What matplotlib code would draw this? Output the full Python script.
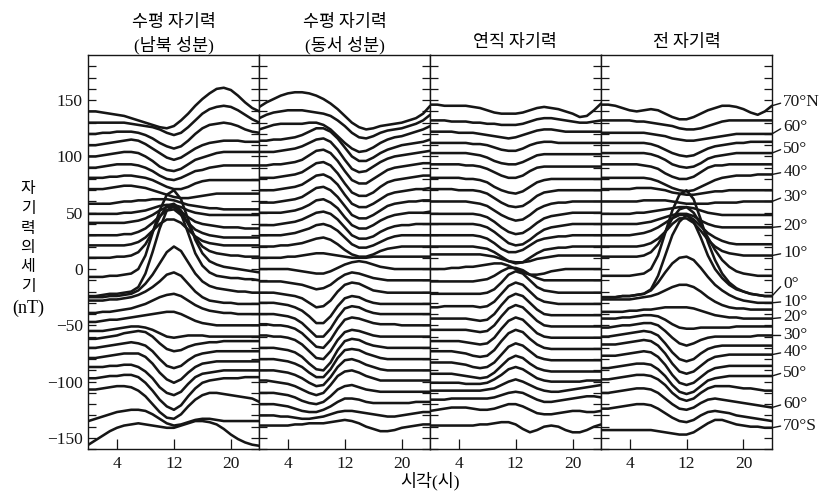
import matplotlib
matplotlib.use("Agg")
import matplotlib.pyplot as plt

# hours of the day (0-24 h), same for every curve
hours = list(range(25))

# latitude labels shown at the right of the last panel (every 10 deg)
lat_labels = ["70°N", "60°", "50°", "40°", "30°", "20°", "10°", "0°",
              "10°", "20°", "30°", "40°", "50°", "60°", "70°S"]
label_y = [148, 126, 107, 86, 64, 38, 14, -13, -29, -43, -59, -74, -92, -120, -139]

# horizontal component, north-south (nT), 70N -> 70S every 5 deg
north_south = [
    [140, 140, 139, 138, 137, 136, 134, 132, 130, 128, 126, 125, 127, 132, 138, 145, 151, 156, 160, 161, 159, 154, 148, 143, 140],
    [130, 130, 130, 130, 130, 130, 129, 128, 127, 126, 124, 121, 119, 121, 126, 132, 138, 142, 144, 145, 144, 141, 137, 133, 130],
    [120, 120, 121, 121, 122, 122, 122, 121, 119, 116, 112, 109, 107, 109, 114, 120, 125, 128, 129, 130, 129, 127, 124, 122, 121],
    [110, 110, 111, 112, 113, 114, 115, 114, 111, 107, 103, 99, 97, 99, 103, 107, 110, 112, 113, 114, 114, 114, 113, 113, 113],
    [100, 100, 101, 102, 103, 104, 104, 103, 100, 96, 91, 88, 87, 89, 93, 97, 99, 101, 103, 104, 104, 104, 104, 104, 104],
    [90, 90, 91, 92, 93, 93, 93, 92, 90, 87, 83, 80, 79, 81, 84, 87, 88, 90, 91, 92, 92, 92, 92, 92, 92],
    [81, 81, 81, 82, 82, 83, 83, 82, 81, 79, 76, 73, 71, 71, 73, 76, 78, 79, 79, 79, 79, 79, 79, 79, 79],
    [71, 71, 71, 72, 73, 74, 74, 73, 72, 70, 68, 66, 64, 63, 63, 64, 65, 66, 67, 67, 67, 67, 67, 67, 67],
    [58, 58, 58, 58, 59, 60, 60, 61, 61, 62, 62, 62, 61, 59, 57, 56, 55, 54, 54, 53, 53, 53, 53, 53, 53],
    [49, 49, 49, 49, 49, 50, 50, 51, 52, 54, 56, 57, 57, 55, 52, 50, 49, 48, 48, 48, 48, 48, 48, 48, 48],
    [41, 41, 41, 41, 41, 41, 42, 43, 45, 48, 52, 55, 55, 51, 46, 42, 40, 39, 38, 37, 37, 37, 36, 36, 36],
    [30, 30, 30, 30, 30, 31, 31, 33, 36, 41, 47, 52, 53, 48, 41, 35, 32, 30, 29, 28, 28, 28, 28, 28, 28],
    [21, 21, 21, 21, 21, 21, 22, 24, 28, 34, 40, 44, 44, 41, 35, 29, 25, 23, 22, 21, 21, 21, 21, 21, 21],
    [10, 10, 10, 10, 11, 11, 12, 15, 22, 33, 46, 56, 58, 52, 40, 28, 20, 16, 14, 13, 12, 12, 11, 11, 11],
    [-7, -7, -7, -6, -6, -5, -4, 0, 12, 32, 52, 66, 70, 62, 44, 26, 14, 7, 4, 2, 1, 0, -1, -2, -3],
    [-24, -24, -23, -22, -22, -21, -20, -16, -4, 15, 36, 52, 56, 49, 32, 14, 3, -3, -6, -7, -8, -8, -9, -9, -10],
    [-25, -25, -25, -24, -24, -23, -22, -19, -13, -5, 5, 15, 20, 16, 6, -4, -11, -15, -17, -18, -19, -20, -20, -21, -21],
    [-28, -28, -28, -27, -27, -26, -25, -23, -20, -16, -11, -5, -3, -6, -13, -20, -25, -28, -29, -30, -30, -31, -31, -31, -31],
    [-39, -39, -38, -38, -37, -36, -35, -33, -31, -28, -25, -23, -22, -24, -28, -32, -35, -37, -38, -39, -39, -40, -40, -40, -40],
    [-47, -47, -46, -45, -45, -44, -43, -42, -41, -40, -39, -38, -38, -40, -43, -46, -48, -49, -50, -50, -50, -50, -50, -50, -50],
    [-55, -55, -55, -54, -53, -52, -51, -51, -52, -54, -57, -60, -61, -60, -59, -59, -59, -60, -60, -60, -60, -60, -60, -60, -60],
    [-62, -62, -61, -60, -59, -57, -56, -55, -56, -60, -66, -71, -73, -72, -69, -67, -66, -65, -65, -64, -64, -64, -64, -64, -64],
    [-70, -70, -69, -68, -67, -66, -65, -66, -68, -73, -80, -86, -88, -86, -81, -77, -75, -74, -73, -73, -73, -73, -73, -73, -73],
    [-79, -79, -78, -77, -76, -75, -75, -75, -78, -84, -92, -98, -101, -98, -92, -87, -84, -83, -82, -82, -82, -82, -82, -82, -82],
    [-87, -87, -87, -86, -86, -85, -85, -87, -91, -97, -105, -110, -112, -109, -102, -96, -93, -92, -91, -90, -90, -90, -90, -90, -90],
    [-97, -97, -96, -95, -95, -94, -94, -96, -101, -108, -116, -122, -125, -121, -113, -106, -101, -99, -98, -97, -97, -97, -96, -96, -96],
    [-107, -107, -106, -105, -104, -104, -105, -108, -113, -120, -127, -132, -133, -129, -122, -116, -112, -110, -110, -111, -112, -113, -114, -115, -118],
    [-135, -133, -131, -129, -127, -126, -125, -125, -126, -129, -133, -137, -139, -138, -136, -134, -133, -133, -134, -135, -135, -135, -135, -135, -135],
    [-156, -152, -148, -144, -141, -139, -138, -137, -138, -139, -140, -141, -141, -139, -137, -135, -135, -136, -138, -142, -147, -151, -154, -156, -157],
]

# horizontal component, east-west (nT)
east_west = [
    [144, 148, 151, 154, 156, 157, 157, 156, 154, 151, 147, 142, 136, 130, 126, 124, 125, 127, 128, 129, 130, 132, 134, 138, 145],
    [134, 137, 139, 140, 141, 141, 141, 140, 139, 138, 136, 132, 127, 121, 117, 116, 118, 121, 123, 124, 125, 127, 129, 132, 137],
    [124, 126, 128, 129, 129, 129, 129, 130, 130, 128, 124, 118, 112, 107, 104, 105, 108, 112, 115, 117, 118, 120, 122, 124, 127],
    [114, 114, 115, 115, 116, 117, 119, 122, 125, 125, 122, 116, 108, 100, 96, 96, 99, 103, 106, 108, 110, 111, 112, 113, 115],
    [104, 104, 104, 105, 106, 107, 109, 112, 115, 116, 113, 106, 97, 89, 86, 87, 91, 95, 98, 100, 101, 102, 103, 104, 105],
    [92, 92, 93, 93, 94, 95, 97, 101, 105, 106, 103, 96, 87, 79, 76, 76, 80, 84, 88, 90, 91, 92, 93, 94, 94],
    [81, 81, 81, 82, 83, 84, 86, 90, 94, 95, 92, 85, 76, 68, 65, 65, 68, 73, 77, 79, 80, 81, 82, 83, 83],
    [70, 70, 70, 71, 72, 73, 75, 79, 83, 84, 81, 75, 66, 58, 55, 55, 58, 62, 66, 68, 69, 70, 71, 71, 72],
    [59, 59, 59, 60, 61, 62, 64, 68, 72, 73, 70, 64, 56, 48, 45, 45, 48, 52, 56, 58, 59, 60, 60, 61, 61],
    [50, 50, 50, 50, 51, 52, 54, 57, 61, 62, 59, 54, 46, 39, 36, 36, 39, 43, 46, 48, 49, 50, 50, 50, 51],
    [39, 39, 39, 40, 41, 42, 44, 47, 50, 51, 49, 44, 37, 30, 27, 27, 29, 33, 36, 38, 39, 39, 40, 40, 40],
    [30, 30, 30, 30, 31, 32, 34, 36, 39, 40, 38, 34, 28, 22, 19, 19, 21, 24, 27, 29, 30, 30, 30, 30, 30],
    [20, 20, 20, 21, 21, 22, 23, 25, 27, 28, 26, 22, 17, 13, 11, 11, 13, 16, 18, 19, 20, 20, 20, 20, 20],
    [10, 10, 10, 10, 11, 11, 12, 13, 14, 14, 13, 12, 11, 10, 10, 10, 11, 11, 11, 11, 11, 11, 11, 11, 11],
    [0, 0, 0, 0, 0, -1, -2, -3, -4, -4, -2, 1, 4, 6, 7, 6, 4, 2, 1, 0, 0, 0, 0, 0, 0],
    [-11, -11, -11, -11, -12, -13, -14, -16, -18, -17, -14, -9, -5, -3, -4, -6, -8, -9, -10, -10, -10, -10, -10, -10, -10],
    [-21, -21, -21, -22, -23, -24, -26, -30, -34, -33, -28, -20, -14, -12, -13, -16, -19, -20, -21, -21, -21, -21, -21, -21, -21],
    [-30, -30, -30, -31, -32, -34, -37, -42, -48, -48, -42, -33, -26, -24, -25, -28, -30, -31, -31, -31, -31, -31, -31, -31, -31],
    [-40, -40, -40, -41, -42, -44, -48, -54, -60, -60, -53, -43, -35, -33, -34, -37, -39, -40, -40, -40, -40, -40, -40, -40, -40],
    [-49, -49, -50, -50, -51, -53, -57, -63, -69, -70, -63, -53, -45, -43, -44, -46, -48, -49, -49, -49, -50, -50, -50, -50, -50],
    [-59, -59, -60, -60, -61, -63, -67, -73, -79, -80, -73, -63, -56, -54, -55, -57, -59, -60, -60, -60, -60, -60, -60, -60, -60],
    [-70, -70, -70, -71, -72, -74, -78, -84, -89, -90, -83, -72, -64, -62, -63, -66, -68, -69, -70, -70, -70, -70, -70, -70, -70],
    [-80, -80, -80, -81, -82, -84, -87, -92, -96, -96, -89, -79, -72, -71, -72, -75, -77, -79, -80, -80, -80, -80, -80, -80, -80],
    [-90, -90, -90, -91, -92, -94, -97, -101, -104, -103, -96, -87, -81, -80, -82, -85, -87, -89, -90, -90, -90, -90, -90, -90, -90],
    [-99, -99, -100, -101, -102, -104, -107, -110, -112, -110, -103, -95, -91, -90, -92, -95, -97, -99, -99, -99, -99, -99, -99, -99, -99],
    [-110, -110, -110, -111, -112, -114, -117, -119, -120, -118, -113, -107, -104, -103, -105, -107, -108, -109, -109, -109, -109, -109, -109, -109, -109],
    [-120, -120, -120, -121, -122, -124, -126, -127, -127, -125, -122, -118, -115, -115, -116, -118, -119, -119, -119, -119, -119, -119, -118, -118, -118],
    [-130, -130, -130, -131, -131, -132, -133, -133, -132, -131, -129, -127, -126, -126, -127, -128, -129, -130, -131, -131, -130, -129, -128, -127, -127],
    [-139, -139, -139, -139, -139, -138, -138, -137, -137, -137, -136, -135, -134, -135, -137, -140, -142, -144, -144, -143, -141, -140, -139, -138, -138],
]

# vertical component (nT)
vertical = [
    [146, 146, 145, 145, 145, 145, 144, 143, 141, 139, 138, 138, 138, 139, 141, 143, 144, 143, 142, 140, 138, 135, 136, 141, 147],
    [132, 132, 132, 131, 131, 131, 130, 130, 129, 129, 128, 128, 128, 129, 131, 133, 134, 134, 133, 132, 131, 130, 130, 131, 132],
    [122, 122, 122, 122, 121, 121, 121, 120, 119, 118, 117, 116, 117, 119, 121, 123, 124, 124, 123, 122, 122, 122, 122, 122, 122],
    [112, 112, 112, 112, 112, 112, 111, 111, 110, 108, 106, 105, 105, 107, 110, 112, 113, 113, 112, 112, 112, 112, 112, 112, 112],
    [103, 103, 103, 103, 103, 103, 102, 101, 99, 96, 94, 93, 93, 95, 98, 101, 102, 102, 102, 102, 102, 102, 102, 102, 102],
    [93, 93, 93, 93, 93, 92, 92, 91, 89, 86, 83, 81, 81, 83, 87, 90, 91, 91, 91, 91, 91, 91, 91, 91, 91],
    [81, 81, 81, 81, 81, 80, 80, 79, 77, 73, 70, 68, 67, 69, 73, 77, 79, 80, 80, 80, 80, 80, 80, 80, 80],
    [71, 71, 71, 71, 70, 70, 70, 69, 67, 63, 59, 56, 55, 56, 60, 65, 68, 69, 70, 70, 70, 70, 70, 70, 70],
    [60, 60, 60, 60, 60, 60, 59, 58, 56, 52, 48, 45, 43, 44, 48, 53, 56, 58, 59, 59, 60, 60, 60, 60, 60],
    [49, 49, 49, 49, 49, 49, 49, 48, 46, 42, 37, 33, 31, 32, 36, 41, 45, 47, 48, 49, 50, 50, 50, 50, 50],
    [40, 40, 40, 40, 40, 40, 40, 39, 37, 33, 28, 23, 21, 22, 26, 31, 35, 37, 38, 39, 40, 40, 40, 40, 40],
    [30, 30, 30, 30, 30, 30, 30, 29, 27, 23, 18, 15, 15, 17, 21, 25, 27, 28, 29, 29, 30, 30, 30, 30, 30],
    [20, 20, 20, 20, 20, 20, 20, 19, 18, 15, 11, 7, 5, 6, 10, 14, 17, 18, 19, 19, 20, 20, 20, 20, 20],
    [13, 13, 13, 13, 13, 13, 13, 13, 12, 11, 9, 7, 6, 6, 7, 9, 10, 11, 12, 12, 12, 12, 12, 12, 12],
    [0, 0, 0, 1, 1, 2, 2, 3, 4, 5, 5, 3, 0, -3, -5, -5, -4, -2, -1, 0, 0, 0, 0, 0, 0],
    [-11, -11, -11, -11, -11, -11, -11, -10, -9, -6, -2, 1, 1, -1, -5, -8, -10, -10, -10, -10, -10, -10, -10, -10, -10],
    [-22, -22, -22, -22, -22, -22, -22, -22, -21, -18, -12, -5, -2, -4, -10, -16, -19, -20, -21, -21, -21, -21, -21, -21, -21],
    [-34, -34, -33, -33, -33, -33, -33, -34, -33, -29, -22, -15, -12, -14, -20, -26, -29, -30, -31, -31, -31, -31, -31, -31, -31],
    [-44, -44, -44, -44, -44, -44, -45, -46, -45, -40, -32, -25, -22, -24, -30, -36, -40, -41, -41, -41, -41, -41, -41, -41, -41],
    [-54, -54, -54, -54, -54, -54, -55, -56, -55, -50, -42, -35, -32, -34, -40, -46, -50, -51, -51, -51, -51, -51, -51, -51, -51],
    [-64, -64, -64, -64, -64, -65, -66, -67, -66, -61, -53, -46, -43, -45, -51, -57, -60, -61, -61, -61, -61, -61, -61, -61, -61],
    [-73, -73, -73, -73, -74, -75, -77, -78, -77, -72, -64, -57, -54, -56, -62, -67, -70, -71, -71, -71, -71, -71, -71, -71, -71],
    [-83, -83, -83, -83, -84, -85, -87, -88, -87, -83, -76, -69, -66, -68, -73, -78, -80, -81, -81, -81, -81, -81, -81, -81, -81],
    [-93, -93, -93, -93, -94, -95, -96, -97, -96, -92, -86, -80, -77, -79, -84, -88, -90, -91, -91, -91, -91, -91, -91, -91, -91],
    [-101, -101, -101, -101, -101, -102, -102, -102, -101, -98, -94, -89, -87, -89, -93, -97, -99, -100, -100, -100, -100, -100, -99, -99, -99],
    [-108, -108, -108, -108, -108, -108, -108, -108, -107, -106, -103, -100, -98, -100, -103, -106, -108, -109, -109, -108, -107, -106, -105, -104, -103],
    [-116, -116, -116, -115, -115, -115, -115, -115, -115, -114, -112, -110, -109, -110, -113, -116, -118, -118, -117, -116, -115, -114, -113, -113, -114],
    [-126, -125, -124, -123, -123, -123, -124, -125, -125, -124, -122, -120, -120, -122, -125, -128, -129, -129, -128, -127, -126, -126, -127, -127, -126],
    [-139, -139, -139, -139, -139, -139, -139, -138, -138, -137, -136, -136, -138, -142, -145, -143, -140, -139, -140, -143, -145, -145, -143, -140, -138],
]

# total intensity (nT)
total = [
    [146, 146, 145, 143, 141, 140, 141, 142, 141, 138, 135, 133, 133, 135, 138, 141, 143, 145, 145, 144, 142, 139, 137, 140, 145],
    [132, 132, 132, 132, 132, 131, 131, 130, 129, 128, 127, 125, 124, 124, 125, 127, 129, 131, 132, 132, 132, 132, 132, 132, 132],
    [121, 121, 121, 121, 121, 121, 121, 120, 119, 118, 116, 115, 114, 114, 115, 116, 117, 118, 119, 120, 120, 120, 120, 120, 120],
    [112, 112, 112, 112, 112, 112, 112, 111, 109, 106, 103, 101, 100, 101, 104, 107, 109, 110, 111, 112, 112, 113, 113, 113, 113],
    [103, 103, 103, 103, 103, 103, 103, 102, 100, 97, 93, 91, 90, 91, 94, 98, 100, 101, 102, 103, 103, 103, 103, 103, 103],
    [93, 93, 93, 93, 93, 93, 92, 91, 89, 85, 82, 80, 80, 82, 86, 90, 92, 92, 93, 93, 93, 93, 93, 93, 93],
    [81, 81, 81, 81, 81, 81, 81, 80, 78, 75, 72, 70, 69, 70, 73, 76, 79, 81, 82, 83, 83, 83, 84, 84, 84],
    [71, 71, 71, 71, 71, 72, 72, 72, 71, 70, 68, 67, 66, 66, 67, 68, 69, 69, 70, 70, 70, 70, 70, 70, 70],
    [60, 60, 60, 60, 60, 60, 61, 61, 61, 61, 60, 59, 58, 58, 58, 58, 59, 59, 59, 59, 60, 60, 60, 60, 60],
    [49, 49, 49, 49, 49, 50, 50, 51, 52, 53, 54, 55, 55, 54, 52, 50, 49, 48, 48, 48, 48, 48, 48, 48, 48],
    [40, 40, 40, 40, 40, 40, 41, 42, 44, 46, 48, 49, 49, 47, 43, 40, 38, 37, 37, 37, 37, 37, 37, 37, 37],
    [30, 30, 30, 30, 30, 31, 32, 34, 37, 41, 45, 48, 48, 44, 38, 32, 28, 25, 23, 22, 22, 22, 22, 22, 22],
    [20, 20, 20, 20, 20, 20, 21, 23, 27, 33, 40, 45, 45, 41, 34, 26, 20, 16, 14, 13, 12, 12, 12, 12, 12],
    [11, 11, 11, 11, 11, 11, 12, 15, 22, 33, 45, 53, 55, 50, 40, 28, 17, 8, 2, -2, -4, -5, -6, -6, -6],
    [-6, -6, -6, -6, -6, -5, -4, 0, 12, 32, 52, 66, 70, 62, 44, 24, 8, -4, -12, -17, -20, -22, -23, -24, -24],
    [-25, -25, -25, -24, -24, -23, -22, -18, -6, 12, 30, 42, 48, 42, 28, 12, 0, -8, -14, -18, -20, -22, -23, -24, -24],
    [-25, -25, -25, -24, -24, -23, -22, -19, -12, -3, 5, 10, 11, 8, 1, -7, -14, -19, -23, -26, -28, -29, -30, -30, -30],
    [-27, -27, -27, -27, -27, -26, -25, -24, -22, -19, -16, -14, -14, -16, -20, -25, -29, -32, -34, -35, -35, -36, -36, -36, -36],
    [-38, -38, -38, -38, -37, -37, -36, -36, -35, -34, -34, -34, -34, -35, -37, -39, -41, -42, -43, -43, -44, -44, -44, -44, -44],
    [-44, -44, -44, -43, -43, -42, -41, -41, -42, -45, -49, -52, -53, -53, -52, -52, -52, -52, -52, -51, -51, -51, -51, -51, -51],
    [-52, -52, -51, -50, -50, -49, -48, -48, -50, -55, -61, -66, -68, -66, -63, -61, -60, -60, -60, -60, -60, -60, -59, -59, -59],
    [-60, -60, -59, -58, -57, -56, -55, -56, -59, -66, -74, -80, -82, -80, -75, -71, -69, -68, -68, -68, -68, -68, -68, -68, -68],
    [-67, -67, -67, -66, -65, -64, -63, -64, -68, -75, -84, -91, -93, -91, -86, -81, -78, -77, -76, -76, -76, -76, -76, -76, -76],
    [-77, -77, -77, -76, -75, -74, -73, -74, -78, -85, -94, -101, -103, -101, -96, -91, -88, -87, -86, -86, -86, -86, -86, -86, -86],
    [-88, -88, -87, -86, -85, -84, -84, -85, -89, -95, -103, -109, -111, -109, -104, -99, -97, -96, -95, -95, -95, -95, -95, -95, -95],
    [-98, -98, -97, -96, -95, -94, -94, -95, -98, -103, -110, -115, -117, -115, -110, -106, -104, -104, -104, -105, -106, -106, -107, -108, -108],
    [-110, -110, -109, -108, -107, -106, -106, -107, -110, -115, -120, -124, -125, -123, -119, -116, -115, -116, -117, -118, -119, -120, -121, -122, -123],
    [-124, -124, -123, -122, -121, -120, -120, -121, -124, -128, -132, -135, -136, -134, -130, -127, -126, -127, -128, -130, -131, -132, -133, -134, -135],
    [-143, -143, -143, -143, -143, -143, -143, -143, -144, -145, -146, -147, -147, -145, -141, -137, -134, -134, -136, -138, -139, -140, -140, -141, -141],
]

panels = [north_south, east_west, vertical, total]

serif = ["Liberation Serif", "Noto Sans CJK KR"]
hangul = ["Noto Sans CJK KR", "DejaVu Sans"]
ink = "#161616"

fig = plt.figure(figsize=(8.23, 4.92), dpi=100)
axes = fig.subplots(1, 4, sharey=True)
fig.subplots_adjust(left=0.1075, right=0.938, bottom=0.087, top=0.888, wspace=0)

for ax, curves in zip(axes, panels):
    for row in curves:
        ax.plot(hours, row, color=ink, lw=1.85, solid_capstyle="round", solid_joinstyle="round")
    ax.set_xlim(0, 24)
    ax.set_ylim(-160, 190)
    ax.set_xticks([4, 12, 20])
    ax.set_yticks(range(-150, 151, 50))
    ax.set_yticks(range(-160, 190, 10), minor=True)
    ax.tick_params(axis="both", which="both", direction="in", width=0.9, colors=ink,
                   labelsize=12.5, labelcolor=ink)
    ax.tick_params(axis="y", which="both", left=True, right=True, length=6, pad=4)
    ax.tick_params(axis="x", which="major", length=7, pad=5)
    for lab in ax.get_xticklabels() + ax.get_yticklabels():
        lab.set_family(serif)
    for sp in ax.spines.values():
        sp.set_linewidth(1.0)
        sp.set_color(ink)

axes[0].set_yticklabels(["−150", "−100", "−50", "0", "50", "100", "150"])
for ax in axes[1:]:
    ax.tick_params(axis="y", labelleft=False)

# latitude labels with leader lines on the right
ax4 = axes[3]
for k, (lab, ly) in enumerate(zip(lat_labels, label_y)):
    end_val = total[2 * k][-1]
    ax4.annotate(lab, xy=(24, end_val), xytext=(25.6, ly), textcoords="data",
                 fontsize=12.5, family=serif, color=ink, va="center", ha="left",
                 annotation_clip=False,
                 arrowprops=dict(arrowstyle="-", color=ink, lw=1.0,
                                 shrinkA=0, shrinkB=0, relpos=(0, 0.5)))

# panel titles
tsize = 12.5
fig.text(0.2114, 0.955, "수평 자기력", ha="center", va="center", fontsize=tsize, family=hangul)
fig.text(0.2114, 0.908, "(남북 성분)", ha="center", va="center", fontsize=tsize, family=serif)
fig.text(0.419, 0.955, "수평 자기력", ha="center", va="center", fontsize=tsize, family=hangul)
fig.text(0.419, 0.908, "(동서 성분)", ha="center", va="center", fontsize=tsize, family=serif)
fig.text(0.626, 0.914, "연직 자기력", ha="center", va="center", fontsize=tsize, family=hangul)
fig.text(0.835, 0.914, "전 자기력", ha="center", va="center", fontsize=tsize, family=hangul)

# vertical y label, one syllable per line
ylab_chars = ["자", "기", "력", "의", "세", "기"]
for j, ch in enumerate(ylab_chars):
    fig.text(0.034, 1 - (189 + j * 19.5) / 492, ch, ha="center", va="center",
             fontsize=11.5, family=hangul)
fig.text(0.034, 1 - 308 / 492, "(nT)", ha="center", va="center", fontsize=13, family=serif)

fig.text(0.523, 0.022, "시각(시)", ha="center", va="center", fontsize=12.5, family=serif)

fig.savefig("out.png", dpi=100, facecolor="white")
